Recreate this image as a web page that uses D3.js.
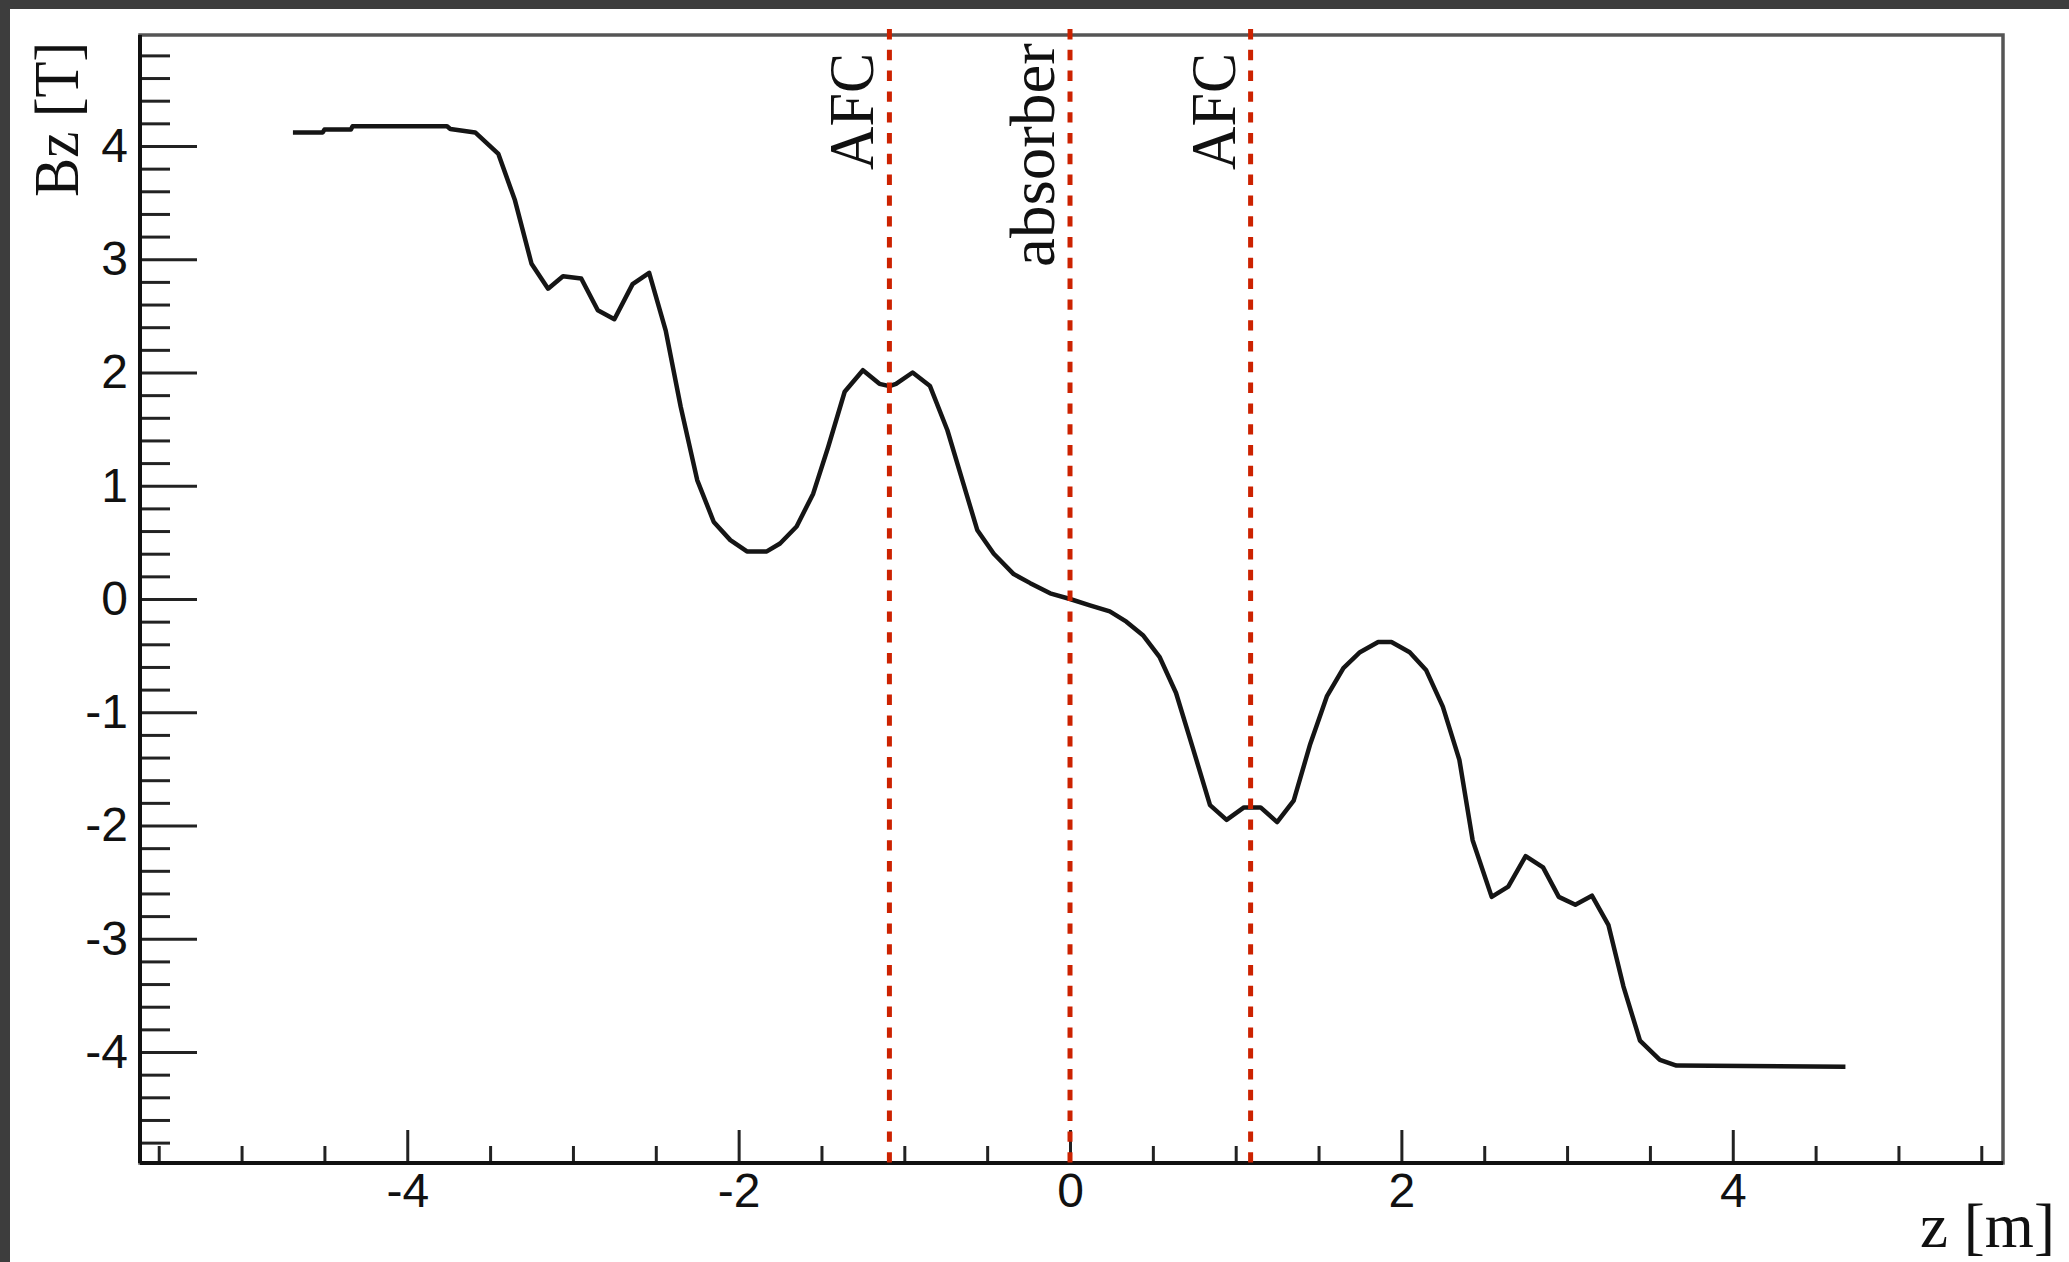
<!DOCTYPE html>
<html>
<head>
<meta charset="utf-8">
<script src="https://cdn.jsdelivr.net/npm/d3@7"></script>
<style>
  html, body { margin: 0; padding: 0; background: #3d3d3d; }
  svg { display: block; }
</style>
</head>
<body>
<svg id="chart"></svg>
<script>
const width = 2069
const height = 1262

// field map: z [m] and Bz [T]
const zValues = [
  -4.69, -4.51, -4.50, -4.34, -4.33, -3.76, -3.74, -3.59, -3.45, -3.35,
  -3.25, -3.15, -3.06, -2.95, -2.85, -2.75, -2.64, -2.54, -2.44, -2.35,
  -2.25, -2.15, -2.05, -1.95, -1.83, -1.75, -1.65, -1.55, -1.46, -1.36,
  -1.25, -1.15, -1.09, -1.05, -0.95, -0.845, -0.74, -0.65, -0.56, -0.46,
  -0.34, -0.24, -0.12, 0.0, 0.12, 0.24, 0.34, 0.44, 0.54, 0.64,
  0.74, 0.845, 0.945, 1.05, 1.15, 1.25, 1.35, 1.45, 1.55, 1.65,
  1.75, 1.86, 1.94, 2.05, 2.15, 2.25, 2.35, 2.43, 2.545, 2.645,
  2.75, 2.855, 2.95, 3.05, 3.15, 3.25, 3.34, 3.44, 3.56, 3.66, 4.68,
]
const bzValues = [
  4.12, 4.12, 4.145, 4.145, 4.175, 4.175, 4.15, 4.12, 3.93, 3.52,
  2.96, 2.74, 2.85, 2.83, 2.55, 2.47, 2.78, 2.88, 2.37, 1.70,
  1.05, 0.68, 0.52, 0.42, 0.42, 0.49, 0.64, 0.93, 1.34, 1.83,
  2.02, 1.90, 1.88, 1.90, 2.00, 1.88, 1.49, 1.05, 0.61, 0.40,
  0.22, 0.14, 0.05, 0.0, -0.056, -0.11, -0.20, -0.32, -0.51, -0.83,
  -1.31, -1.82, -1.95, -1.84, -1.84, -1.97, -1.78, -1.28, -0.86, -0.61,
  -0.47, -0.38, -0.38, -0.47, -0.63, -0.95, -1.42, -2.13, -2.63, -2.54,
  -2.27, -2.37, -2.63, -2.70, -2.62, -2.88, -3.42, -3.90, -4.07, -4.12, -4.13,
]

// dashed markers
const markerZ = [-1.09, 0, 1.09]
const markerLabels = ['AFC', 'absorber', 'AFC']

// ticks
const xMajorTicks = [-4, -2, 0, 2, 4]
const xMinorTicks = [-5.5, -5, -4.5, -3.5, -3, -2.5, -1.5, -1, -0.5, 0.5, 1, 1.5, 2.5, 3, 3.5, 4.5, 5, 5.5]
const yMajorTicks = [-4, -3, -2, -1, 0, 1, 2, 3, 4]
const yMinorTicks = d3.range(-24, 25).filter((i) => i % 5 !== 0).map((i) => i / 5)

const frame = { left: 140, right: 2003, top: 35, bottom: 1163 }

const svg = d3.select('#chart')
  .attr('width', width)
  .attr('height', height)

// white page over the dark backdrop
svg.append('rect')
  .attr('x', 10).attr('y', 9)
  .attr('width', width - 10).attr('height', height - 9)
  .attr('fill', '#ffffff')

const x = d3.scaleLinear()
  .domain([-5.613, 5.631])
  .range([frame.left, frame.right])

const y = d3.scaleLinear()
  .domain([-4.98, 4.98])
  .range([frame.bottom, frame.top])

// frame
svg.append('rect')
  .attr('x', frame.left).attr('y', frame.top)
  .attr('width', frame.right - frame.left)
  .attr('height', frame.bottom - frame.top)
  .attr('fill', 'none')
  .attr('stroke', '#555')
  .attr('stroke-width', 3.5)

// plain hyphen for negatives, like the original
const tickLabel = (d) => String(d)

const tickFont = (g) => g.selectAll('text')
  .attr('font-family', '"Liberation Sans", Arial, sans-serif')
  .attr('font-size', 48)
  .attr('fill', '#111')

// x axis
svg.append('g')
  .attr('transform', `translate(0,${frame.bottom})`)
  .call(d3.axisBottom(x).tickValues(xMinorTicks).tickSize(-17).tickFormat(''))
  .call((g) => g.select('.domain').remove())
  .call((g) => g.selectAll('line').attr('stroke', '#222').attr('stroke-width', 3))

svg.append('g')
  .attr('transform', `translate(0,${frame.bottom})`)
  .call(d3.axisBottom(x).tickValues(xMajorTicks).tickSize(-33).tickPadding(10).tickFormat(tickLabel))
  .call((g) => g.select('.domain').remove())
  .call((g) => g.selectAll('line').attr('stroke', '#222').attr('stroke-width', 3))
  .call(tickFont)

// y axis
svg.append('g')
  .attr('transform', `translate(${frame.left},0)`)
  .call(d3.axisLeft(y).tickValues(yMinorTicks).tickSize(-30).tickFormat(''))
  .call((g) => g.select('.domain').remove())
  .call((g) => g.selectAll('line').attr('stroke', '#222').attr('stroke-width', 3))

svg.append('g')
  .attr('transform', `translate(${frame.left},0)`)
  .call(d3.axisLeft(y).tickValues(yMajorTicks).tickSize(-57).tickPadding(12).tickFormat(tickLabel))
  .call((g) => g.select('.domain').remove())
  .call((g) => g.selectAll('line').attr('stroke', '#222').attr('stroke-width', 3))
  .call(tickFont)

// axis lines on top of the ticks
svg.append('line')
  .attr('x1', frame.left).attr('x2', frame.right)
  .attr('y1', frame.bottom).attr('y2', frame.bottom)
  .attr('stroke', '#111').attr('stroke-width', 4)
svg.append('line')
  .attr('x1', frame.left).attr('x2', frame.left)
  .attr('y1', frame.top).attr('y2', frame.bottom)
  .attr('stroke', '#111').attr('stroke-width', 4)

// field curve
const points = zValues.map((z, i) => [z, bzValues[i]])
svg.append('path')
  .datum(points)
  .attr('fill', 'none')
  .attr('stroke', '#151515')
  .attr('stroke-width', 4.5)
  .attr('stroke-linejoin', 'round')
  .attr('d', d3.line().x((d) => x(d[0])).y((d) => y(d[1])))

// red dashed markers
svg.selectAll('line.marker')
  .data(markerZ)
  .enter().append('line')
    .attr('class', 'marker')
    .attr('x1', (d) => x(d)).attr('x2', (d) => x(d))
    .attr('y1', 29).attr('y2', frame.bottom)
    .attr('stroke', '#cc2200')
    .attr('stroke-width', 5)
    .attr('stroke-dasharray', '10.4,10.4')

const serif = '"Liberation Serif", "DejaVu Serif", serif'
const labelLength = { AFC: 117, absorber: 224 }
const labelBottom = { AFC: 170, absorber: 267 }

svg.selectAll('text.marker')
  .data(markerZ)
  .enter().append('text')
    .attr('class', 'marker')
    .attr('transform', (d, i) => `translate(${x(d) - 16},${labelBottom[markerLabels[i]]}) rotate(-90)`)
    .attr('font-family', serif)
    .attr('font-size', 64)
    .attr('fill', '#111')
    .attr('textLength', (d, i) => labelLength[markerLabels[i]])
    .attr('lengthAdjust', 'spacingAndGlyphs')
    .text((d, i) => markerLabels[i])

// axis titles
svg.append('text')
  .attr('transform', 'translate(78,197) rotate(-90)')
  .attr('font-family', serif)
  .attr('font-size', 64)
  .attr('fill', '#111')
  .attr('textLength', 155)
  .attr('lengthAdjust', 'spacingAndGlyphs')
  .text('Bz [T]')

svg.append('text')
  .attr('x', 1920).attr('y', 1247)
  .attr('font-family', serif)
  .attr('font-size', 64)
  .attr('fill', '#111')
  .attr('textLength', 135)
  .attr('lengthAdjust', 'spacingAndGlyphs')
  .text('z [m]')
</script>
</body>
</html>
